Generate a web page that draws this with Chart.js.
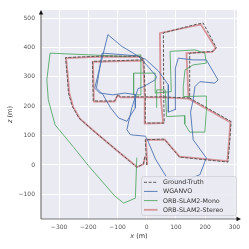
<!DOCTYPE html>
<html>
<head>
<meta charset="utf-8">
<script src="https://cdn.jsdelivr.net/npm/chart.js@4.4.0/dist/chart.umd.min.js"></script>
<style>
  body { margin: 0; background: #fff; }
  canvas { display: block; }
</style>
</head>
<body>
<canvas id="myChart" width="249" height="249"></canvas>
<script>
"use strict";

// trajectories, x and z in metres (null = break in the line)
const gtX = [0, -5, 60, 112, 160, 278, 284, 289, 147, 147, 227, 238, 193, 165, 57, 58, 60, -5, -5, -10, -20, -150, -278, -272, -268, -255, -232, -181, -100, -34, -12, -6,
    null, 147, 58, -5, -90, -99, -110, -183, -186, -10];
const gtZ = [0, 86, 88, 27, 22, 10, 80, 148, 228, 381, 387, 400, 484, 478, 450, 232, 143, 143, 232, 358, 370, 371, 366, 300, 245, 200, 160, 115, 48, -8, 3, 30,
    null, 228, 232, 232, 232, 240, 218, 218, 353, 358];

const stX = [2, -3, 62, 113, 160, 276, 282, 286, 143, 136, 224, 236, 186, 160, 45, 48, 56, -7, -7, -12, -22, -150, -276, -270, -265, -252, -229, -179, -99, -33, -11, -5,
    null, 143, 55, -7, -90, -99, -110, -181, -184, -12];
const stZ = [0, 86, 86, 28, 24, 13, 82, 146, 226, 381, 385, 398, 478, 474, 449, 230, 143, 141, 230, 356, 368, 369, 364, 300, 244, 198, 158, 114, 47, -7, 3, 30,
    null, 226, 230, 230, 230, 238, 216, 216, 351, 356];

const wgX = [159, 204, 182, 120, 68, 30, 6, -4, -56, -68, -51, -30, -11, 29, 34, -11, -28, -85, -133, -178, -161, -116, -76, -40,
    -39, -68, -96, -124, -150, -172, -153, -34, -4, 40, 74, 74, 100, 98, 108, 159, 204, 244, 233, 182, 165, 159, 150, 159];
const wgZ = [86, 24, -33, -58, -42, 20, 77, 98, 103, 120, 195, 260, 267, 290, 301, 353, 370, 404, 444, 262, 245, 239, 245, 240,
    195, 149, 160, 195, 240, 262, 381, 372, 360, 320, 273, 180, 190, 330, 364, 358, 358, 290, 279, 284, 267, 222, 180, 86];

const moX = [34, 34, 63, 68, 130, 130, 147, 199, 205, 204, 125, 125, 131, 159, 204, 199, 165, 80, 84, 29, 29, -45, -45, -20, -20,
    -76, -331, -342, -337, -314, -250, -200, -110, -79, -39, -34];
const moZ = [195, 256, 256, 165, 168, 140, 112, 112, 199, 235, 233, 267, 324, 341, 347, 381, 392, 387, 250, 245, 313, 313, 239, 239, 375,
    370, 381, 290, 222, 137, 60, -2, -105, -130, -113, 25];

const xTicks = [-300, -200, -100, 0, 100, 200, 300];
const zTicks = [-100, 0, 100, 200, 300, 400, 500];

const seriesNames = ['Ground-Truth', 'WGANVO', 'ORB-SLAM2-Mono', 'ORB-SLAM2-Stereo'];

function toPoints(xs, zs) {
    let pts = [];
    for (let i = 0; i < xs.length; i++) {
        pts.push({ x: xs[i], y: zs[i] });
    }
    return pts;
}

function minus(v) {
    return String(v).replace('-', '\u2212');
}

const styles = [
    { color: '#5a5a5a', width: 1, dash: [3, 1.6], order: 0 },
    { color: '#4c72b0', width: 0.9, dash: [], order: 1 },
    { color: '#55a868', width: 0.9, dash: [], order: 2 },
    { color: 'rgba(196, 78, 82, 0.55)', width: 1.8, dash: [], order: 3 }
];

const allData = [toPoints(gtX, gtZ), toPoints(wgX, wgZ), toPoints(moX, moZ), toPoints(stX, stZ)];

let datasets = [];
for (let i = 0; i < seriesNames.length; i++) {
    datasets.push({
        label: seriesNames[i],
        data: allData[i],
        showLine: true,
        borderColor: styles[i].color,
        borderWidth: styles[i].width,
        borderDash: styles[i].dash,
        pointRadius: 0,
        fill: false,
        spanGaps: false,
        order: styles[i].order
    });
}

const font = 'DejaVu Sans';

const decor = {
    id: 'decor',
    beforeDraw(chart) {
        const a = chart.chartArea;
        const ctx = chart.ctx;
        ctx.save();
        ctx.fillStyle = '#eaeaf2';
        ctx.fillRect(a.left, a.top, a.right - a.left, a.bottom - a.top);
        ctx.restore();
    },
    afterDraw(chart) {
        const a = chart.chartArea;
        const ctx = chart.ctx;
        ctx.save();
        // axis spines with arrows
        ctx.strokeStyle = '#777';
        ctx.lineWidth = 1.2;
        ctx.beginPath();
        ctx.moveTo(a.left, a.bottom);
        ctx.lineTo(a.left, a.top + 3);
        ctx.moveTo(a.left, a.bottom);
        ctx.lineTo(a.right + 1, a.bottom);
        ctx.stroke();
        ctx.fillStyle = '#111';
        ctx.beginPath();
        ctx.moveTo(a.left, a.top);
        ctx.lineTo(a.left - 2.2, a.top + 4.5);
        ctx.lineTo(a.left + 2.2, a.top + 4.5);
        ctx.closePath();
        ctx.fill();
        ctx.beginPath();
        ctx.moveTo(a.right + 4, a.bottom);
        ctx.lineTo(a.right - 0.5, a.bottom - 2.2);
        ctx.lineTo(a.right - 0.5, a.bottom + 2.2);
        ctx.closePath();
        ctx.fill();

        // axis titles
        ctx.fillStyle = '#333';
        ctx.textBaseline = 'middle';
        let cx = (a.left + a.right) / 2;
        ctx.font = 'italic 6.5px "' + font + '"';
        let w1 = ctx.measureText('x').width;
        ctx.font = '6.5px "' + font + '"';
        let w2 = ctx.measureText(' (m)').width;
        let sx = cx - (w1 + w2) / 2;
        ctx.textAlign = 'left';
        ctx.font = 'italic 6.5px "' + font + '"';
        ctx.fillText('x', sx, 236);
        ctx.font = '6.5px "' + font + '"';
        ctx.fillText(' (m)', sx + w1, 236);

        ctx.save();
        ctx.translate(10, (a.top + a.bottom) / 2);
        ctx.rotate(-Math.PI / 2);
        ctx.font = 'italic 6.5px "' + font + '"';
        w1 = ctx.measureText('z').width;
        ctx.font = '6.5px "' + font + '"';
        w2 = ctx.measureText(' (m)').width;
        sx = -(w1 + w2) / 2;
        ctx.font = 'italic 6.5px "' + font + '"';
        ctx.fillText('z', sx, 0);
        ctx.font = '6.5px "' + font + '"';
        ctx.fillText(' (m)', sx + w1, 0);
        ctx.restore();

        // legend
        const bx = 141, by = 176, bw = 95, bh = 39;
        ctx.fillStyle = 'rgba(234, 234, 242, 0.85)';
        ctx.strokeStyle = '#cfcfd6';
        ctx.lineWidth = 0.8;
        ctx.beginPath();
        ctx.roundRect(bx + 0.5, by + 0.5, bw, bh, 2);
        ctx.fill();
        ctx.stroke();
        const rows = [182.3, 191.4, 200.6, 209.8];
        ctx.font = '6.3px "' + font + '"';
        ctx.textAlign = 'left';
        for (let i = 0; i < seriesNames.length; i++) {
            ctx.strokeStyle = styles[i].color;
            ctx.lineWidth = styles[i].width;
            ctx.setLineDash(styles[i].dash);
            ctx.beginPath();
            ctx.moveTo(144, rows[i]);
            ctx.lineTo(157.5, rows[i]);
            ctx.stroke();
            ctx.setLineDash([]);
            ctx.fillStyle = '#333';
            ctx.fillText(seriesNames[i], 163, rows[i] + 0.3);
        }
        ctx.restore();
    }
};

const ctx = document.getElementById('myChart').getContext('2d');
const myChart = new Chart(ctx, {
    type: 'scatter',
    data: { datasets: datasets },
    options: {
        responsive: false,
        animation: false,
        devicePixelRatio: 1,
        layout: { padding: { left: 0, right: 12, top: 10, bottom: 0 } },
        plugins: {
            legend: { display: false },
            tooltip: { enabled: false }
        },
        scales: {
            x: {
                type: 'linear',
                min: -362,
                max: 309,
                afterBuildTicks: function (scale) {
                    scale.ticks = xTicks.map(v => ({ value: v }));
                },
                afterFit: function (scale) {
                    scale.height = 30;
                },
                grid: { color: '#ffffff', lineWidth: 1, drawTicks: false },
                border: { display: false },
                ticks: {
                    padding: 5,
                    color: '#555',
                    font: { family: font, size: 6 },
                    callback: v => minus(v),
                    maxRotation: 0
                }
            },
            y: {
                type: 'linear',
                min: -184,
                max: 528,
                afterBuildTicks: function (scale) {
                    scale.ticks = zTicks.map(v => ({ value: v }));
                },
                afterFit: function (scale) {
                    scale.width = 41;
                },
                grid: { color: '#ffffff', lineWidth: 1, drawTicks: false },
                border: { display: false },
                ticks: {
                    padding: 6,
                    color: '#555',
                    font: { family: font, size: 6 },
                    callback: v => minus(v)
                }
            }
        }
    },
    plugins: [decor]
});
</script>
</body>
</html>
